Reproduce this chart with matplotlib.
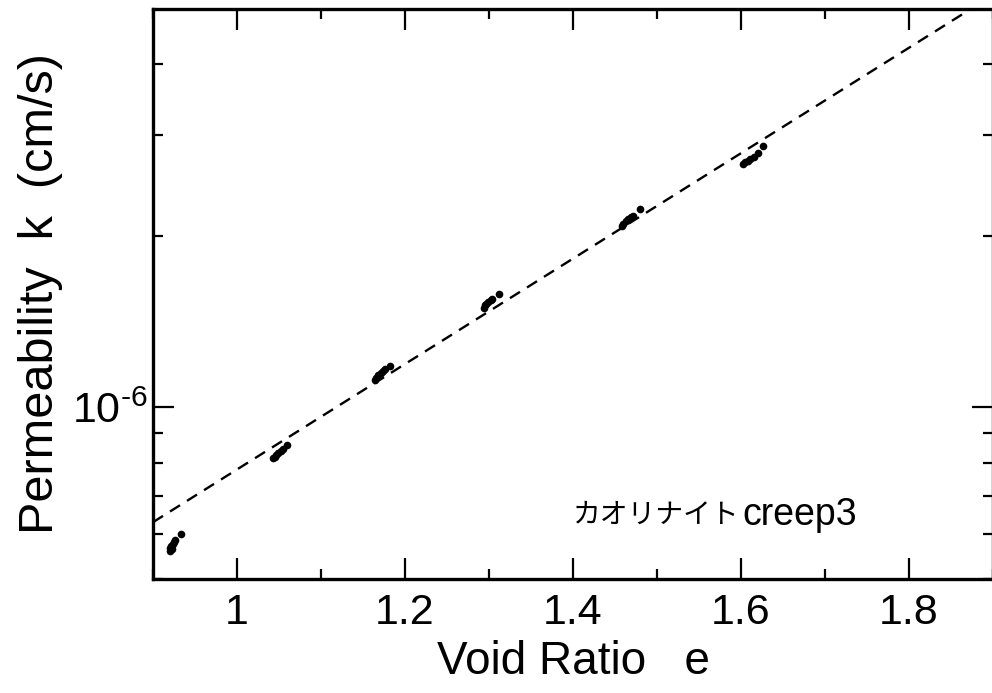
import matplotlib
matplotlib.use("Agg")
import matplotlib.pyplot as plt
from matplotlib.ticker import MultipleLocator, FixedLocator, NullFormatter, FixedFormatter

plt.rcParams['font.family'] = ['Liberation Sans', 'DejaVu Sans']
plt.rcParams['mathtext.default'] = 'regular'

# measured points, creep3 run (one small cluster per load step)
void_ratio = [
    0.9202, 0.9205, 0.9215, 0.9225, 0.9235, 0.9245, 0.9260, 0.9333,
    1.0429, 1.0450, 1.0470, 1.0490, 1.0520, 1.0550, 1.0595,
    1.1643, 1.1660, 1.1680, 1.1710, 1.1740, 1.1762, 1.1821,
    1.2940, 1.2950, 1.2970, 1.2990, 1.3020, 1.3036, 1.3119,
    1.4583, 1.4600, 1.4630, 1.4660, 1.4690, 1.4714, 1.4798,
    1.6024, 1.6050, 1.6080, 1.6110, 1.6150, 1.6202, 1.6262,
]
permeability = [
    5.60e-7, 5.66e-7, 5.72e-7, 5.64e-7, 5.75e-7, 5.80e-7, 5.86e-7, 5.99e-7,
    8.14e-7, 8.20e-7, 8.26e-7, 8.32e-7, 8.40e-7, 8.47e-7, 8.58e-7,
    1.119e-6, 1.128e-6, 1.138e-6, 1.150e-6, 1.160e-6, 1.170e-6, 1.180e-6,
    1.497e-6, 1.510e-6, 1.520e-6, 1.530e-6, 1.545e-6, 1.552e-6, 1.584e-6,
    2.084e-6, 2.100e-6, 2.120e-6, 2.140e-6, 2.155e-6, 2.169e-6, 2.232e-6,
    2.675e-6, 2.690e-6, 2.710e-6, 2.730e-6, 2.750e-6, 2.797e-6, 2.876e-6,
]

# e - log k fitted line
fit_e = [0.9, 1.9]
fit_k = [6.29e-7, 5.29e-6]

x_ticks = [1.0, 1.2, 1.4, 1.6, 1.8]
x_labels = ['1', '1.2', '1.4', '1.6', '1.8']
y_ticks = [1e-6]
y_labels = ['10$^{\u20106}$']
y_minor = [5e-7, 6e-7, 7e-7, 8e-7, 9e-7, 2e-6, 3e-6, 4e-6]

fig = plt.figure(figsize=(9.92, 6.93), dpi=100)
ax = fig.add_axes([153 / 992, 1 - 579 / 693, 840 / 992, 570 / 693])

ax.plot(fit_e, fit_k, color='black', linestyle=(0, (5, 3.5)), linewidth=1.7)
ax.plot(void_ratio, permeability, 'o', color='black', markersize=5.5, markeredgewidth=0)

ax.set_yscale('log')
ax.set_xlim(0.9, 1.9)
ax.set_ylim(5e-7, 5e-6)

ax.xaxis.set_major_locator(FixedLocator(x_ticks))
ax.xaxis.set_major_formatter(FixedFormatter(x_labels))
ax.xaxis.set_minor_locator(MultipleLocator(0.1))
ax.yaxis.set_major_locator(FixedLocator(y_ticks))
ax.yaxis.set_major_formatter(FixedFormatter(y_labels))
ax.yaxis.set_minor_locator(FixedLocator(y_minor))
ax.yaxis.set_minor_formatter(NullFormatter())

ax.tick_params(which='both', direction='in', top=True, right=True, width=1.6, color='black')
ax.tick_params(which='major', length=15, labelsize=31, pad=10)
ax.tick_params(which='minor', length=7.5)
ax.tick_params(axis='y', which='major', pad=4)

for sp in ax.spines.values():
    sp.set_linewidth(2.4)

ax.set_xlabel('Void Ratio   e', fontsize=33, labelpad=5)
ax.set_ylabel('Permeability  k  (cm/s)', fontsize=35, labelpad=6)

ax.text(0.500, 0.098, 'カオリナイト', transform=ax.transAxes, fontsize=20,
        family=['Noto Sans CJK JP', 'DejaVu Sans'], va='baseline', ha='left')
ax.text(0.702, 0.095, 'creep3', transform=ax.transAxes, fontsize=27,
        va='baseline', ha='left')

fig.savefig('out.png', dpi=100)
